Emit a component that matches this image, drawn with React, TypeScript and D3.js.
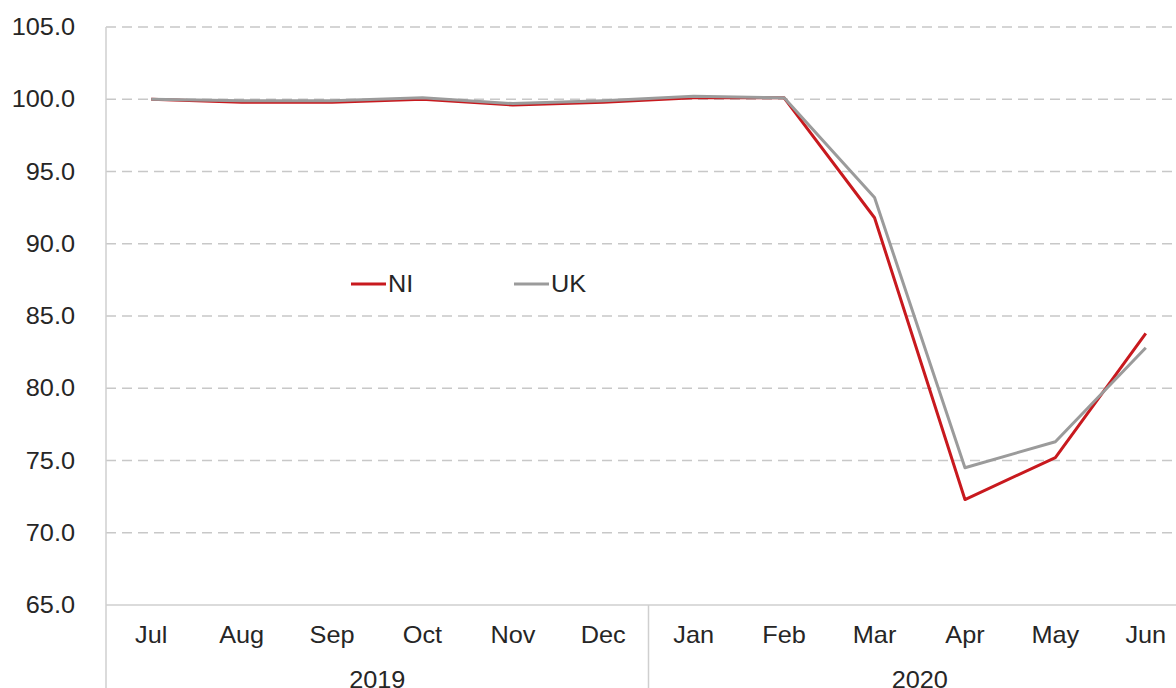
import React from 'react'
import * as d3 from 'd3'

const months = ['Jul', 'Aug', 'Sep', 'Oct', 'Nov', 'Dec', 'Jan', 'Feb', 'Mar', 'Apr', 'May', 'Jun']
const years = [
  { label: '2019', from: 0, to: 6 },
  { label: '2020', from: 6, to: 12 },
]
const niValues = [100.0, 99.8, 99.8, 100.0, 99.6, 99.8, 100.1, 100.1, 91.8, 72.3, 75.2, 83.8]
const ukValues = [100.0, 99.9, 99.9, 100.1, 99.7, 99.9, 100.2, 100.1, 93.2, 74.5, 76.3, 82.8]
const yTicks = [65, 70, 75, 80, 85, 90, 95, 100, 105]
const seriesNames = ['NI', 'UK']

const colors: Record<string, string> = { NI: '#c8191e', UK: '#9b9b9b' }

const font = 'Arial, "Liberation Sans", sans-serif'
const textColor = '#262626'

// the source text is a bit wider than the font, so stretch it a little
function Label({ x, y, anchor = 'start', dy, children }: any) {
  return (
    <text transform={`translate(${x},${y}) scale(1.1,1)`} dy={dy} textAnchor={anchor}
      fontFamily={font} fontSize={23} fill={textColor}>{children}</text>
  )
}

export default function App() {
  const W = 1176
  const H = 688
  const left = 106
  const right = 1191
  const top = 27
  const bottom = 605

  const x = d3.scaleBand<number>()
    .domain(months.map((m, i) => i))
    .range([left, right])
  const y = d3.scaleLinear().domain([65, 105]).range([bottom, top])

  const line = d3.line<number>()
    .x((v, i) => (x(i) as number) + x.bandwidth() / 2)
    .y(v => y(v))

  return (
    <svg width={W} height={H} style={{ position: 'absolute', left: 0, top: 0, background: '#fff' }}>
      {/* gridlines */}
      {yTicks.filter(t => t > 65).map(t => (
        <line key={t} x1={left} x2={W} y1={y(t)} y2={y(t)}
          stroke="#c8c8c8" strokeWidth={1.3} strokeDasharray="10,6" />
      ))}
      {/* axes */}
      <line x1={left} x2={left} y1={top} y2={H} stroke="#cfcfcf" strokeWidth={1.5} />
      <line x1={left} x2={W} y1={bottom} y2={bottom} stroke="#cfcfcf" strokeWidth={1.5} />
      <line x1={x(6)} x2={x(6)} y1={bottom} y2={H} stroke="#cfcfcf" strokeWidth={1.5} />

      {/* y tick labels */}
      {yTicks.map(t => (
        <Label key={t} x={75} y={y(t)} dy="0.35em" anchor="end">{t.toFixed(1)}</Label>
      ))}

      {/* month labels */}
      {months.map((m, i) => (
        <Label key={m + i} x={(x(i) as number) + x.bandwidth() / 2} y={643} anchor="middle">{m}</Label>
      ))}
      {years.map(yr => (
        <Label key={yr.label} x={((x(yr.from) as number) + (x(yr.to - 1) as number) + x.bandwidth()) / 2}
          y={688} anchor="middle">{yr.label}</Label>
      ))}

      {/* lines */}
      <path d={line(niValues) || ''} fill="none" stroke={colors.NI} strokeWidth={3} strokeLinejoin="round" />
      <path d={line(ukValues) || ''} fill="none" stroke={colors.UK} strokeWidth={3} strokeLinejoin="round" />

      {/* legend */}
      {seriesNames.map((s, i) => {
        const lx = 351 + i * 163
        return (
          <g key={s}>
            <line x1={lx} x2={lx + 35} y1={284} y2={284} stroke={colors[s]} strokeWidth={3} />
            <Label x={lx + 37} y={284} dy="0.35em">{s}</Label>
          </g>
        )
      })}
    </svg>
  )
}
